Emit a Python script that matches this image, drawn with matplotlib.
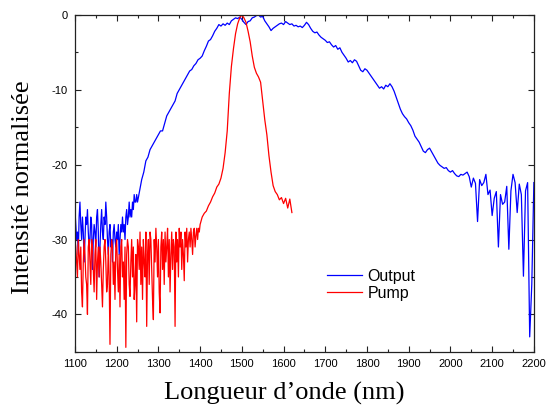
import numpy as np
import matplotlib
matplotlib.use("Agg")
import matplotlib.pyplot as plt
from matplotlib.ticker import MultipleLocator

# ---------------- data ----------------
# Output: noisy part 1100-1250 nm every 2 nm, then 1255-2200 nm every 5 nm
output_noisy_db = [
    -26, -28, -30, -29, -32, -27, -25, -28, -30, -27,   # 1100-1118
    -29, -33, -30, -27, -28, -26, -29, -31, -30, -27,   # 1120-1138
    -28, -34, -30, -28, -29, -31, -27, -26, -29, -35,   # 1140-1158
    -31, -28, -26, -29, -30, -27, -28, -25, -27, -30,   # 1160-1178
    -32, -29, -28, -31, -30, -33, -29, -28, -30, -31,   # 1180-1198
    -29, -30, -28, -32, -30, -28, -29, -27, -29, -28,   # 1200-1218
    -30, -27, -26, -28, -27, -25, -27, -26, -27, -25,   # 1220-1238
    -26, -24, -25, -25, -24, -25,                       # 1240-1250
]
output_db = [
    -23.5, -22, -21, -19.5, -19, -18, -17.5, -17, -16.5,  # 1255-1295
    -16, -15.5, -15.5, -14.5, -13.5, -13, -12.5, -12, -11.5, -10.5,  # 1300-1345
    -10, -9.5, -9, -8.5, -8, -7.5, -7.3, -6.8, -6.5, -6,  # 1350-1395
    -5.8, -5.5, -4.8, -4.2, -3.5, -3.3, -2.8, -2.2, -1.8, -1.3,  # 1400-1445
    -1.5, -1.2, -1.4, -1.1, -1.3, -0.8, -0.6, -0.4, -0.5, -0.3,  # 1450-1495
    -0.6, -1.0, -1.3, -0.9, -0.8, -0.4, -0.3, -0.1, 0.0, -0.3,  # 1500-1545
    -0.2, -0.8, -1.2, -1.6, -2.1, -1.8, -1.6, -1.4, -1.2, -1.1,  # 1550-1595
    -1.3, -0.9, -1.1, -1.3, -1.2, -1.5, -1.4, -1.6, -1.5, -1.7,  # 1600-1645
    -1.4, -1.0, -1.3, -1.8, -2.2, -2.4, -2.3, -2.7, -3.0, -3.2,  # 1650-1695
    -3.4, -3.7, -3.6, -4.0, -4.3, -4.1, -4.6, -4.4, -5.0, -5.4,  # 1700-1745
    -5.8, -6.3, -6.1, -6.4, -6.0, -6.2, -6.8, -7.4, -7.6, -7.2,  # 1750-1795
    -7.4, -7.8, -8.2, -8.6, -9.0, -9.4, -9.8, -9.6, -9.9, -9.4,  # 1800-1845
    -9.6, -9.2, -9.6, -10.2, -11.0, -11.8, -12.6, -13.2, -13.6, -13.9,  # 1850-1895
    -14.4, -14.8, -15.4, -16.2, -16.6, -17.0, -17.6, -18.2, -18.4, -18.0,  # 1900-1945
    -17.8, -18.3, -18.8, -19.3, -19.8, -20.1, -20.3, -20.5, -20.4, -20.8,  # 1950-1995
    -21.0, -20.8, -21.2, -21.5, -21.6, -21.3, -21.4, -21.2, -21.0, -21.6,  # 2000-2045
    -23.0, -21.8, -22.5, -27.6, -22.0, -22.8, -22.4, -21.3, -24.0, -23.4,  # 2050-2095
    -26.8, -24.5, -23.6, -31.0, -24.0, -25.3, -25.0, -22.9, -31.3, -23.5,  # 2100-2145
    -21.3, -22.4, -26.4, -22.6, -24.0, -34.9, -23.5, -22.4, -43.0, -36.0,  # 2150-2195
    -22.4,                                                                 # 2200
]

# Pump: noisy part 1100-1400 nm every 2 nm, then 1405-1620 nm every 5 nm
pump_noisy_db = [
    -30, -31, -33, -35, -30, -32, -34, -31, -37, -39,   # 1100
    -33, -30, -32, -35, -36, -40, -31, -30, -33, -36,   # 1120
    -30, -31, -34, -37, -32, -30, -38, -33, -31, -35,   # 1140
    -31, -33, -36, -39, -34, -31, -30, -33, -37, -36,   # 1160
    -31, -35, -44, -32, -30, -31, -36, -33, -38, -31,   # 1180
    -30, -34, -37, -32, -39, -31, -30, -35, -33, -38,   # 1200
    -31, -44.4, -32, -30, -31, -36, -37.6, -33, -30, -35,  # 1220
    -31, -38, -36, -32, -41, -30, -31, -34, -29, -36,   # 1240
    -31, -38, -30, -33, -35, -29, -41.6, -32, -30, -36,  # 1260
    -29, -30, -34, -38, -40.7, -30, -33, -28.5, -31, -35,  # 1280
    -30, -37, -39.8, -31, -29, -34, -30, -36, -29, -33,  # 1300
    -31, -28.5, -35, -30, -37, -32, -29, -34, -30, -31,  # 1320
    -41.6, -29, -33, -30, -35, -28.5, -31, -29, -34, -30,  # 1340
    -32, -35.5, -29, -31, -28.5, -33, -30, -29, -31, -28.5,  # 1360
    -30, -32, -29, -28.5, -31, -29.5, -28.5, -30, -28.5, -29,  # 1380
    -28,                                                 # 1400
]
pump_db = [
    -27, -26.5, -26.2, -25.5, -25, -24.3, -23.8, -23, -22.6,  # 1405-1445
    -21.8, -20.5, -18.4, -15.5, -10.5, -6.9, -4.5, -2.5, -1.2, -0.4,  # 1450-1495
    0.0, -0.4, -1.0, -2.2, -3.6, -5.5, -7.0, -7.8, -8.3, -9.0,  # 1500-1545
    -11.5, -14.0, -16.0, -18.8, -21.0, -22.8, -23.6, -24.0, -24.7, -24.4,  # 1550-1595
    -25.2, -24.5, -25.8, -24.6, -26.4,   # 1600-1620
]

series_labels = ["Output", "Pump"]
x_ticks = list(range(1100, 2201, 100))
y_ticks = [0, -10, -20, -30, -40]
x_label = "Longueur d\u2019onde (nm)"
y_label = "Intensit\u00e9 normalis\u00e9e"

# ---------------- plotting ----------------
plt.rcParams["axes.unicode_minus"] = False
fig = plt.figure(figsize=(5.47, 4.12), dpi=100)
ax = fig.add_axes([0.137, 0.146, 0.839, 0.818])

x_out = np.concatenate([1100 + 2 * np.arange(len(output_noisy_db)),
                        1255 + 5 * np.arange(len(output_db))])
y_out = np.array(output_noisy_db + output_db, dtype=float)
x_pump = np.concatenate([1100 + 2 * np.arange(len(pump_noisy_db)),
                         1405 + 5 * np.arange(len(pump_db))])
y_pump = np.array(pump_noisy_db + pump_db, dtype=float)

ax.plot(x_out, y_out, color="#0000ff", lw=0.9, label=series_labels[0])
ax.plot(x_pump, y_pump, color="#ff0000", lw=0.9, label=series_labels[1])

ax.set_xlim(1100, 2200)
ax.set_ylim(-45, 0)
ax.set_xticks(x_ticks)
ax.set_xticklabels([str(t) for t in x_ticks])
ax.set_yticks(y_ticks)
ax.set_yticklabels([str(t) for t in y_ticks])
ax.xaxis.set_minor_locator(MultipleLocator(50))
ax.yaxis.set_minor_locator(MultipleLocator(5))
ax.tick_params(which="both", direction="in", top=True, right=True,
               labelsize=8, pad=5, width=0.8, color="#222222")
ax.tick_params(which="major", length=4)
ax.tick_params(which="minor", length=2.5)
for lab in ax.get_xticklabels() + ax.get_yticklabels():
    lab.set_fontfamily("Liberation Sans")
for sp in ax.spines.values():
    sp.set_linewidth(0.9)
    sp.set_color("#222222")

ax.set_xlabel(x_label, fontfamily="Liberation Serif", fontsize=19)
ax.xaxis.set_label_coords(0.457, -0.088)
ax.xaxis.label.set_va("top")
ax.set_ylabel(y_label, fontfamily="Liberation Serif", fontsize=19)
ax.yaxis.label.set_va("center")
ax.yaxis.set_label_coords(-0.113, 0.49)

leg = ax.legend(loc="center left", bbox_to_anchor=(0.549, 0.199), frameon=False,
                borderpad=0, borderaxespad=0, handlelength=2.2, handletextpad=0.35,
                labelspacing=0.1, prop={"family": "Liberation Sans", "size": 11.5})

fig.savefig("out.png", dpi=100, facecolor="white")
